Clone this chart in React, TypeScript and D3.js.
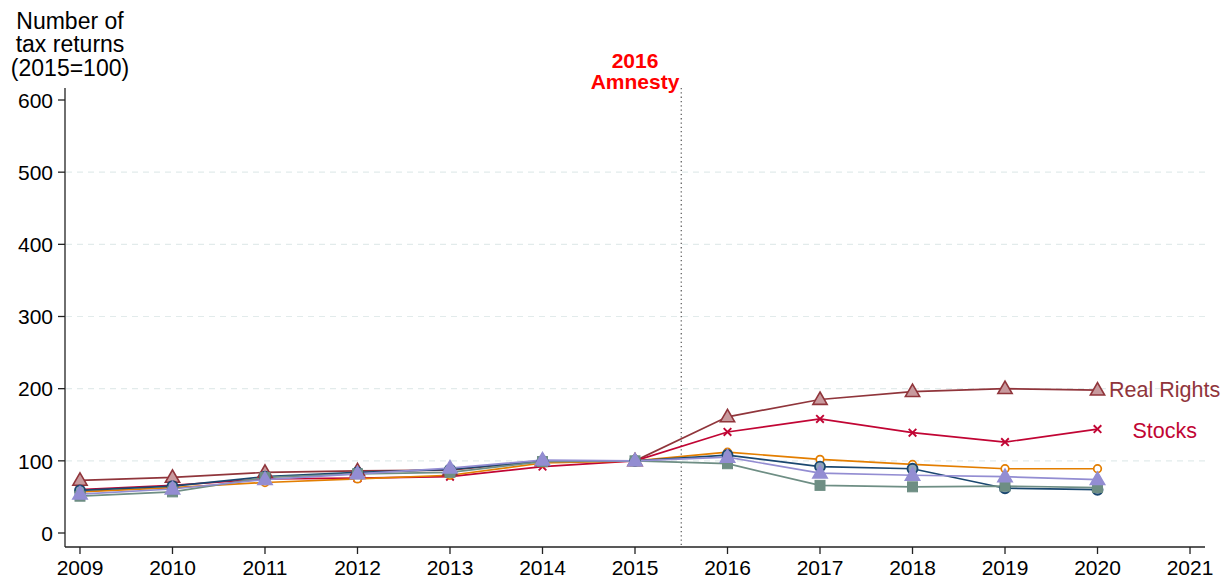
import React from "react";
import * as d3 from "d3";

const years = [2009, 2010, 2011, 2012, 2013, 2014, 2015, 2016, 2017, 2018, 2019, 2020];
const realRights = [73, 77, 84, 86, 87, 100, 100, 161, 185, 196, 200, 198];
const stocks = [60, 66, 75, 76, 78, 92, 100, 140, 158, 139, 126, 144];
const orangeSeries = [57, 63, 70, 75, 80, 97, 100, 112, 102, 95, 89, 89];
const navySeries = [59, 65, 78, 84, 88, 100, 100, 108, 92, 89, 62, 60];
const tealSeries = [51, 57, 77, 82, 84, 99, 100, 96, 66, 64, 65, 63];
const lavenderSeries = [54, 61, 74, 82, 90, 101, 100, 105, 83, 80, 78, 74];
const xTicks = [2009, 2010, 2011, 2012, 2013, 2014, 2015, 2016, 2017, 2018, 2019, 2020, 2021];
const yTicks = [0, 100, 200, 300, 400, 500, 600];
const gridTicks = [100, 200, 300, 400, 500];
const titleLines = ["Number of", "tax returns", "(2015=100)"];

type Marker = "triangle" | "x" | "hcircle" | "circle" | "square";
const series: { name: string; values: number[]; color: string; fill: string; marker: Marker }[] = [
  { name: "Real Rights", values: realRights, color: "#90353b", fill: "#c89a9e", marker: "triangle" },
  { name: "Stocks", values: stocks, color: "#c10534", fill: "none", marker: "x" },
  { name: "Orange", values: orangeSeries, color: "#e37e00", fill: "#ffffff", marker: "hcircle" },
  { name: "Navy", values: navySeries, color: "#1a476f", fill: "#8ea3b7", marker: "circle" },
  { name: "Teal", values: tealSeries, color: "#6e8e84", fill: "#6e8e84", marker: "square" },
  { name: "Lavender", values: lavenderSeries, color: "#938dd2", fill: "#938dd2", marker: "triangle" },
];

const FONT = "Arial, 'Liberation Sans', Helvetica, sans-serif";

export default function App() {
  const x = d3.scaleLinear().domain([2008.838, 2021.162]).range([65, 1205]);
  const y = d3.scaleLinear().domain([0, 600]).range([533, 100]);
  const yBottom = 547;
  const yTop = 88;
  const line = d3
    .line<number>()
    .x((_, i) => x(years[i]))
    .y((d) => y(d));

  const marker = (m: Marker, cx: number, cy: number, color: string, fill: string, key: string) => {
    if (m === "triangle") {
      const s = 7.5;
      const p = `M${cx},${cy - s} L${cx + s * 0.95},${cy + s * 0.65} L${cx - s * 0.95},${cy + s * 0.65} Z`;
      return <path key={key} d={p} fill={fill} stroke={color} strokeWidth={1.6} />;
    }
    if (m === "x") {
      const s = 3.8;
      return (
        <path
          key={key}
          d={`M${cx - s},${cy - s} L${cx + s},${cy + s} M${cx - s},${cy + s} L${cx + s},${cy - s}`}
          stroke={color}
          strokeWidth={1.9}
        />
      );
    }
    if (m === "hcircle") {
      return <circle key={key} cx={cx} cy={cy} r={3.8} fill={fill} stroke={color} strokeWidth={1.7} />;
    }
    if (m === "circle") {
      return <circle key={key} cx={cx} cy={cy} r={5} fill={fill} stroke={color} strokeWidth={1.9} />;
    }
    return <rect key={key} x={cx - 5} y={cy - 5} width={10} height={10} fill={fill} stroke={color} strokeWidth={1} />;
  };

  return (
    <svg
      width={1229}
      height={582}
      style={{ position: "absolute", left: 0, top: 0, background: "#fff" }}
      fontFamily={FONT}
    >
      <rect x={0} y={0} width={1229} height={582} fill="#ffffff" />
      {gridTicks.map((t) => (
        <line
          key={"g" + t}
          x1={66}
          x2={1205}
          y1={y(t)}
          y2={y(t)}
          stroke="#e2ebeb"
          strokeWidth={1.2}
          strokeDasharray="6,5"
        />
      ))}
      <line
        x1={x(2015.5)}
        x2={x(2015.5)}
        y1={yTop}
        y2={yBottom}
        stroke="#555"
        strokeWidth={1.2}
        strokeDasharray="1.3,3"
      />
      <text x={635} y={68} textAnchor="middle" fill="#ff0000" fontWeight="bold" fontSize={21}>
        2016
      </text>
      <text x={635} y={89} textAnchor="middle" fill="#ff0000" fontWeight="bold" fontSize={21}>
        Amnesty
      </text>
      <line x1={65} x2={65} y1={yTop} y2={yBottom} stroke="#222" strokeWidth={1.3} />
      <line x1={65} x2={1205} y1={yBottom} y2={yBottom} stroke="#222" strokeWidth={1.3} />
      {yTicks.map((t) => (
        <g key={"y" + t}>
          <line x1={58} x2={65} y1={y(t)} y2={y(t)} stroke="#222" strokeWidth={1.3} />
          <text x={53} y={y(t) + 7.7} textAnchor="end" fontSize={21} fill="#000">
            {t}
          </text>
        </g>
      ))}
      {xTicks.map((t) => (
        <g key={"x" + t}>
          <line x1={x(t)} x2={x(t)} y1={yBottom} y2={yBottom + 7} stroke="#222" strokeWidth={1.3} />
          <text x={x(t)} y={574.5} textAnchor="middle" fontSize={21} fill="#000">
            {t}
          </text>
        </g>
      ))}
      {titleLines.map((t, i) => (
        <text key={t} x={70} y={28.5 + i * 23.5} textAnchor="middle" fontSize={23} fill="#000">
          {t}
        </text>
      ))}
      {series.map((s) => (
        <path key={"l" + s.name} d={line(s.values) || ""} fill="none" stroke={s.color} strokeWidth={1.7} />
      ))}
      {series.map((s) => (
        <g key={"m" + s.name}>
          {s.values.map((v, i) => marker(s.marker, x(years[i]), y(v), s.color, s.fill, s.name + i))}
        </g>
      ))}
      <text x={1109} y={y(realRights[11]) + 6.5} fontSize={21.5} fill="#90353b">
        Real Rights
      </text>
      <text x={1132.5} y={y(stocks[11]) + 9} fontSize={21.5} fill="#c10534">
        Stocks
      </text>
    </svg>
  );
}
